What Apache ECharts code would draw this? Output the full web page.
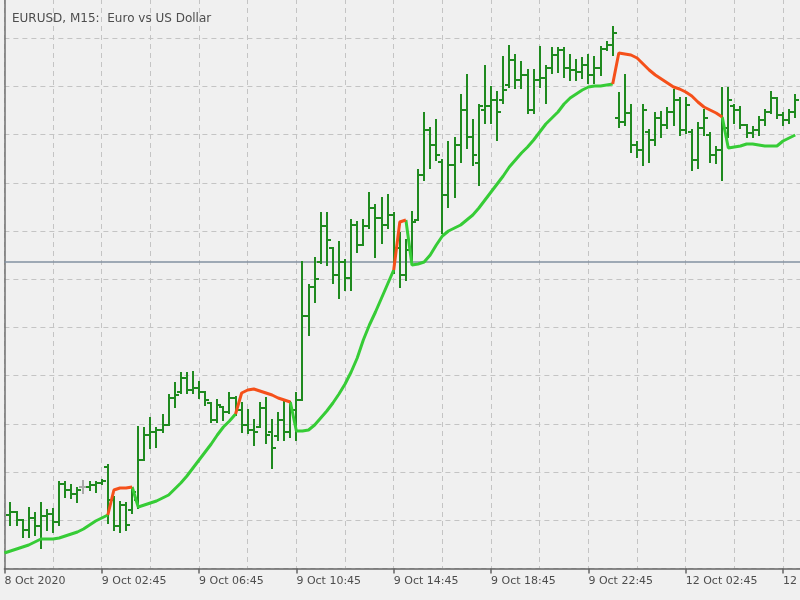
<!DOCTYPE html>
<html>
<head>
<meta charset="utf-8">
<title>EURUSD M15</title>
<script src="https://cdn.jsdelivr.net/npm/echarts@6.0.0/dist/echarts.min.js"></script>
<style>
  html, body { margin: 0; padding: 0; background: #f0f0f0; }
  #chart { width: 800px; height: 600px; }
</style>
</head>
<body>
<div id="chart"></div>
<script>
// 15-minute bars, index 0 = 8 Oct 2020 22:45 (hidden under the left frame)
var barOpen = [null,
  1.17747, 1.17750, 1.17742, 1.17732, 1.17744, 1.17736, 1.17746, 1.17748, 1.17740, 1.17778,
  1.17772, 1.17768, 1.17775, 1.17775, 1.17777, 1.17779, 1.17795, 1.17762, 1.17736, 1.17757,
  1.17752, 1.17762, 1.17802, 1.17827, 1.17830, 1.17832, 1.17837, 1.17864, 1.17870, 1.17884,
  1.17872, 1.17874, 1.17870, 1.17859, 1.17842, 1.17855, 1.17850, 1.17864, 1.17852, 1.17837,
  1.17832, 1.17835, 1.17854, 1.17830, 1.17826, 1.17842, 1.17830, 1.17852, 1.17862, 1.17946,
  1.17975, 1.18000, 1.18036, 1.18014, 1.17987, 1.18000, 1.17984, 1.18037, 1.18017, 1.18036,
  1.18054, 1.18044, 1.18037, 1.18047, 1.18014, 1.17987, 1.18012, 1.18042, 1.18087, 1.18132,
  1.18117, 1.18100, 1.18067, 1.18097, 1.18117, 1.18152, 1.18125, 1.18099, 1.18152, 1.18156,
  1.18162, 1.18162, 1.18177, 1.18202, 1.18182, 1.18187, 1.18152, 1.18182, 1.18184, 1.18194,
  1.18207, 1.18212, 1.18194, 1.18192, 1.18190, 1.18197, 1.18187, 1.18194, 1.18213, 1.18217,
  1.18144, 1.18140, 1.18149, 1.18117, 1.18112, 1.18130, 1.18122, 1.18144, 1.18137, 1.18150,
  1.18162, 1.18132, 1.18130, 1.18102, 1.18134, 1.18127, 1.18107, 1.18112, 1.18134, 1.18156,
  1.18152, 1.18137, 1.18129, 1.18132, 1.18142, 1.18150, 1.18164, 1.18147, 1.18142, 1.18150];

var barHigh = [null,
  1.17759, 1.17750, 1.17742, 1.17754, 1.17749, 1.17759, 1.17752, 1.17753, 1.17780, 1.17780,
  1.17777, 1.17774, 1.17781, 1.17780, 1.17780, 1.17782, 1.17797, 1.17765, 1.17760, 1.17759,
  1.17774, 1.17835, 1.17834, 1.17844, 1.17834, 1.17847, 1.17867, 1.17879, 1.17889, 1.17889,
  1.17890, 1.17880, 1.17870, 1.17859, 1.17862, 1.17855, 1.17869, 1.17865, 1.17859, 1.17852,
  1.17842, 1.17859, 1.17864, 1.17842, 1.17849, 1.17862, 1.17860, 1.17869, 1.18000, 1.17977,
  1.18004, 1.18049, 1.18049, 1.18014, 1.18020, 1.18002, 1.18042, 1.18040, 1.18042, 1.18069,
  1.18057, 1.18064, 1.18067, 1.18049, 1.18029, 1.18022, 1.18050, 1.18092, 1.18149, 1.18134,
  1.18142, 1.18102, 1.18120, 1.18124, 1.18167, 1.18187, 1.18142, 1.18157, 1.18196, 1.18175,
  1.18170, 1.18205, 1.18216, 1.18207, 1.18200, 1.18192, 1.18192, 1.18215, 1.18196, 1.18214,
  1.18214, 1.18214, 1.18207, 1.18202, 1.18204, 1.18207, 1.18205, 1.18215, 1.18220, 1.18235,
  1.18169, 1.18187, 1.18157, 1.18120, 1.18157, 1.18132, 1.18149, 1.18150, 1.18154, 1.18172,
  1.18164, 1.18164, 1.18132, 1.18139, 1.18152, 1.18129, 1.18115, 1.18174, 1.18174, 1.18157,
  1.18155, 1.18137, 1.18135, 1.18145, 1.18152, 1.18170, 1.18164, 1.18149, 1.18152, 1.18167];

var barLow = [null,
  1.17737, 1.17737, 1.17725, 1.17725, 1.17727, 1.17714, 1.17732, 1.17730, 1.17737, 1.17765,
  1.17764, 1.17760, 1.17769, 1.17772, 1.17770, 1.17778, 1.17739, 1.17732, 1.17730, 1.17732,
  1.17749, 1.17754, 1.17802, 1.17814, 1.17815, 1.17830, 1.17837, 1.17855, 1.17869, 1.17869,
  1.17869, 1.17864, 1.17857, 1.17840, 1.17840, 1.17842, 1.17849, 1.17847, 1.17830, 1.17829,
  1.17817, 1.17835, 1.17819, 1.17794, 1.17822, 1.17822, 1.17825, 1.17822, 1.17862, 1.17927,
  1.17960, 1.17999, 1.17997, 1.17979, 1.17964, 1.17972, 1.17972, 1.18010, 1.18017, 1.18034,
  1.18005, 1.18019, 1.18034, 1.17989, 1.17975, 1.17982, 1.17999, 1.18042, 1.18082, 1.18094,
  1.18102, 1.18029, 1.18055, 1.18065, 1.18100, 1.18114, 1.18097, 1.18077, 1.18139, 1.18139,
  1.18122, 1.18159, 1.18175, 1.18174, 1.18174, 1.18149, 1.18149, 1.18175, 1.18159, 1.18189,
  1.18190, 1.18185, 1.18182, 1.18182, 1.18184, 1.18179, 1.18179, 1.18187, 1.18212, 1.18207,
  1.18135, 1.18137, 1.18110, 1.18105, 1.18097, 1.18100, 1.18117, 1.18125, 1.18134, 1.18137,
  1.18127, 1.18129, 1.18092, 1.18094, 1.18127, 1.18100, 1.18099, 1.18082, 1.18125, 1.18139,
  1.18134, 1.18125, 1.18125, 1.18127, 1.18137, 1.18149, 1.18144, 1.18137, 1.18139, 1.18145];

var barClose = [null,
  1.17750, 1.17742, 1.17732, 1.17744, 1.17736, 1.17746, 1.17748, 1.17740, 1.17778, 1.17772,
  1.17768, 1.17772, 1.17775, 1.17777, 1.17779, 1.17781, 1.17762, 1.17736, 1.17757, 1.17737,
  1.17770, 1.17802, 1.17827, 1.17830, 1.17832, 1.17837, 1.17864, 1.17867, 1.17884, 1.17872,
  1.17874, 1.17870, 1.17862, 1.17842, 1.17857, 1.17850, 1.17864, 1.17852, 1.17837, 1.17832,
  1.17830, 1.17854, 1.17827, 1.17814, 1.17842, 1.17830, 1.17852, 1.17862, 1.17946, 1.17975,
  1.17983, 1.18036, 1.18022, 1.17987, 1.18000, 1.17984, 1.18037, 1.18017, 1.18036, 1.18054,
  1.18044, 1.18037, 1.18047, 1.18014, 1.17987, 1.18012, 1.18040, 1.18087, 1.18132, 1.18117,
  1.18107, 1.18067, 1.18097, 1.18117, 1.18152, 1.18125, 1.18107, 1.18156, 1.18156, 1.18162,
  1.18150, 1.18172, 1.18202, 1.18182, 1.18187, 1.18152, 1.18182, 1.18184, 1.18194, 1.18207,
  1.18212, 1.18194, 1.18192, 1.18190, 1.18197, 1.18187, 1.18194, 1.18213, 1.18217, 1.18229,
  1.18140, 1.18149, 1.18117, 1.18112, 1.18152, 1.18122, 1.18144, 1.18137, 1.18150, 1.18162,
  1.18132, 1.18157, 1.18102, 1.18134, 1.18144, 1.18107, 1.18112, 1.18134, 1.18162, 1.18152,
  1.18137, 1.18129, 1.18132, 1.18142, 1.18150, 1.18164, 1.18147, 1.18142, 1.18150, 1.18162];

// moving average line
var maValues = [
  1.17709, 1.17711, 1.17713, 1.17715, 1.17717, 1.17720, 1.17723, 1.17723, 1.17723, 1.17724,
  1.17726, 1.17728, 1.17730, 1.17733, 1.17737, 1.17741, 1.17744, 1.17747, 1.17772, 1.17774,
  1.17774, 1.17775, 1.17755, 1.17757, 1.17759, 1.17761, 1.17764, 1.17767, 1.17773, 1.17779,
  1.17786, 1.17794, 1.17802, 1.17810, 1.17818, 1.17827, 1.17835, 1.17841, 1.17848, 1.17869,
  1.17872, 1.17873, 1.17871, 1.17869, 1.17867, 1.17864, 1.17862, 1.17860, 1.17831, 1.17831,
  1.17832, 1.17837, 1.17844, 1.17851, 1.17859, 1.17868, 1.17878, 1.17890, 1.17904, 1.17922,
  1.17937, 1.17950, 1.17964, 1.17978, 1.17992, 1.18040, 1.18042, 1.17997, 1.17998, 1.18000,
  1.18007, 1.18017, 1.18026, 1.18031, 1.18034, 1.18037, 1.18042, 1.18047, 1.18054, 1.18062,
  1.18070, 1.18078, 1.18086, 1.18095, 1.18102, 1.18109, 1.18115, 1.18122, 1.18130, 1.18138,
  1.18144, 1.18150, 1.18158, 1.18164, 1.18168, 1.18172, 1.18175, 1.18176, 1.18176, 1.18177,
  1.18178, 1.18209, 1.18208, 1.18207, 1.18204, 1.18198, 1.18192, 1.18187, 1.18183, 1.18179,
  1.18175, 1.18173, 1.18170, 1.18166, 1.18160, 1.18155, 1.18152, 1.18149, 1.18145, 1.18114,
  1.18115, 1.18116, 1.18118, 1.18118, 1.18117, 1.18116, 1.18116, 1.18116, 1.18121, 1.18124, 1.18127];

// bar index ranges where the MA is drawn red
var maRedRanges = [[17, 21], [38, 47], [64, 66], [100, 118]];

var priceLine = 1.17999;

var tickIndex = [0, 16, 32, 48, 64, 80, 96, 112, 128];
var tickLabels = ['8 Oct 2020', '9 Oct 02:45', '9 Oct 06:45', '9 Oct 10:45', '9 Oct 14:45',
                  '9 Oct 18:45', '9 Oct 22:45', '12 Oct 02:45', '12 Oct 06:45'];

var BAR_COLOR = '#1f8a1f';
var DOJI_COLOR = '#a9a9a9';
var GRID_COLOR = '#c4c4c4';
var TEXT_COLOR = '#4d4d4d';

// time categories: 15 min steps, weekend skipped after Friday 23:45
var MONTHS = ['Jan','Feb','Mar','Apr','May','Jun','Jul','Aug','Sep','Oct','Nov','Dec'];
var startTime = Date.UTC(2020, 9, 8, 22, 45);
var mondayIndex = 101;
var categories = [];
for (var i = 0; i < barOpen.length + 1; i++) {
  var t = new Date(startTime + i * 900000 + (i >= mondayIndex ? 2 * 86400000 : 0));
  var hh = ('0' + t.getUTCHours()).slice(-2), mm = ('0' + t.getUTCMinutes()).slice(-2);
  categories.push(t.getUTCDate() + ' ' + MONTHS[t.getUTCMonth()] + ' ' + hh + ':' + mm);
}

var barData = [];
for (var k = 0; k < barOpen.length; k++) {
  if (barOpen[k] == null) continue;
  barData.push([k, barOpen[k], barHigh[k], barLow[k], barClose[k]]);
}

function isRed(k) {
  for (var j = 0; j < maRedRanges.length; j++) {
    if (k >= maRedRanges[j][0] && k <= maRedRanges[j][1]) return true;
  }
  return false;
}
function isInsideRed(k) {
  for (var j = 0; j < maRedRanges.length; j++) {
    if (k > maRedRanges[j][0] && k < maRedRanges[j][1]) return true;
  }
  return false;
}
var maGreen = maValues.map(function(v, k) { return isInsideRed(k) ? '-' : v; });
var maRed = maValues.map(function(v, k) { return isRed(k) ? v : '-'; });

function renderBar(params, api) {
  var idx = api.value(0);
  var o = api.value(1), h = api.value(2), l = api.value(3), c = api.value(4);
  var pO = api.coord([idx, o]), pH = api.coord([idx, h]);
  var pL = api.coord([idx, l]), pC = api.coord([idx, c]);
  var x = Math.round(pH[0]);
  var st = { stroke: o === c ? DOJI_COLOR : BAR_COLOR, lineWidth: 2 };
  return {
    type: 'group',
    children: [
      { type: 'line', shape: { x1: x, y1: pH[1] - 1, x2: x, y2: pL[1] + 1 }, style: st },
      { type: 'line', shape: { x1: x - 4, y1: pO[1], x2: x, y2: pO[1] }, style: st },
      { type: 'line', shape: { x1: x, y1: pC[1], x2: x + 4, y2: pC[1] }, style: st }
    ]
  };
}

function isTick(index) { return tickIndex.indexOf(index) >= 0; }

var chart = echarts.init(document.getElementById('chart'));
chart.setOption({
  backgroundColor: '#f0f0f0',
  animation: false,
  title: {
    text: 'EURUSD, M15:  Euro vs US Dollar',
    left: 7, top: 8,
    textStyle: { fontFamily: 'DejaVu Sans', fontSize: 12, fontWeight: 'normal', color: TEXT_COLOR }
  },
  grid: { left: 4.4, right: -1.3, top: -10, bottom: 31.5, containLabel: false, outerBoundsMode: 'none' },
  xAxis: {
    type: 'category',
    data: categories,
    boundaryGap: false,
    axisLine: { lineStyle: { color: '#646464', width: 1.5 } },
    axisTick: { show: true, interval: function(i) { return isTick(i); }, length: 5,
                lineStyle: { color: '#646464', width: 1.5 } },
    axisLabel: {
      interval: function(i) { return isTick(i); },
      formatter: function(v, i) { return tickLabels[tickIndex.indexOf(i)]; },
      align: 'left', margin: 7, hideOverlap: false,
      fontFamily: 'DejaVu Sans', fontSize: 11, color: TEXT_COLOR
    },
    splitLine: { show: true, interval: function(i) { return i % 8 === 0; },
                 lineStyle: { color: GRID_COLOR, type: [5, 4], width: 1 } }
  },
  yAxis: {
    type: 'value',
    position: 'left',
    min: 1.176935, max: 1.18272, interval: 0.000482,
    axisLine: { show: true, lineStyle: { color: '#707070', width: 1.5 } },
    axisTick: { show: false },
    axisLabel: { show: false },
    splitLine: { show: true, lineStyle: { color: GRID_COLOR, type: [5, 4], width: 1 } }
  },
  series: [
    {
      type: 'custom',
      name: 'EURUSD',
      renderItem: renderBar,
      encode: { x: 0, y: [1, 2, 3, 4] },
      data: barData,
      z: 3,
      markLine: {
        silent: true, symbol: ['none', 'none'], label: { show: false },
        lineStyle: { color: '#8392a2', width: 1.5, type: 'solid' },
        data: [{ yAxis: priceLine }],
        z: 1
      }
    },
    {
      type: 'line', name: 'MA up', data: maGreen, showSymbol: false, z: 5,
      lineStyle: { color: '#36cc36', width: 3 }
    },
    {
      type: 'line', name: 'MA down', data: maRed, showSymbol: false, z: 6,
      lineStyle: { color: '#f5501a', width: 3 }
    }
  ]
});
</script>
</body>
</html>
